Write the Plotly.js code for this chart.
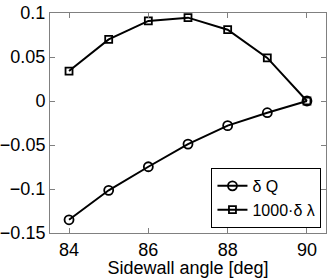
<!DOCTYPE html>
<html>
<head>
<meta charset="utf-8">
<script src="https://cdn.plot.ly/plotly-3.0.1.min.js"></script>
<style>html,body{margin:0;padding:0;background:#fff;}#chart{width:332px;height:278px;}</style>
</head>
<body>
<div id="chart"></div>
<script>
const angles = [84, 85, 86, 87, 88, 89, 90];
const deltaQ = [-0.135, -0.1015, -0.0747, -0.049, -0.028, -0.0133, 0];
const deltaLambda1000 = [0.034, 0.070, 0.091, 0.0947, 0.081, 0.049, 0];
const seriesNames = ["δ Q", "1000·δ λ"];
const xTicks = [84, 86, 88, 90];
const yTicks = [-0.15, -0.1, -0.05, 0, 0.05, 0.1];
const yTickLabels = ["−0.15", "−0.1", "−0.05", "0", "0.05", "0.1"];

const font = {family: "Liberation Sans, Arial, Helvetica, sans-serif", size: 18, color: "#000"};
const axisCommon = {
  showgrid: false, zeroline: false, showline: true, linecolor: "#808080", linewidth: 1,
  mirror: "ticks", ticks: "inside", ticklen: 5, tickcolor: "#808080", tickwidth: 1,
  tickfont: font, automargin: false
};

const traces = [
  {x: angles, y: deltaQ, name: seriesNames[0], mode: "lines+markers", type: "scatter",
   line: {color: "#000", width: 2},
   marker: {symbol: "circle-open", size: 9, color: "#000", line: {width: 1.8, color: "#000"}}},
  {x: angles, y: deltaLambda1000, name: seriesNames[1], mode: "lines+markers", type: "scatter",
   line: {color: "#000", width: 2},
   marker: {symbol: "square-open", size: 7, color: "#000", line: {width: 1.8, color: "#000"}}}
];

const layout = {
  width: 332, height: 278,
  margin: {l: 50, r: 6, t: 13, b: 45, pad: 0, autoexpand: false},
  paper_bgcolor: "#fff", plot_bgcolor: "#fff",
  font: font,
  showlegend: true,
  xaxis: Object.assign({}, axisCommon, {
    range: [83.52, 90.48], tickvals: xTicks, ticktext: xTicks.map(String),
    title: {text: "Sidewall angle [deg]", font: font, standoff: 0}
  }),
  yaxis: Object.assign({}, axisCommon, {
    range: [-0.15, 0.1], tickvals: yTicks, ticktext: yTickLabels
  }),
  legend: {
    x: 0.585, y: 0.023, xanchor: "left", yanchor: "bottom",
    bgcolor: "#fff", bordercolor: "#000", borderwidth: 1,
    font: {family: font.family, size: 16, color: "#000"}, tracegroupgap: 0, itemwidth: 30
  }
};

Plotly.newPlot("chart", traces, layout, {displayModeBar: false, staticPlot: true});
</script>
</body>
</html>
